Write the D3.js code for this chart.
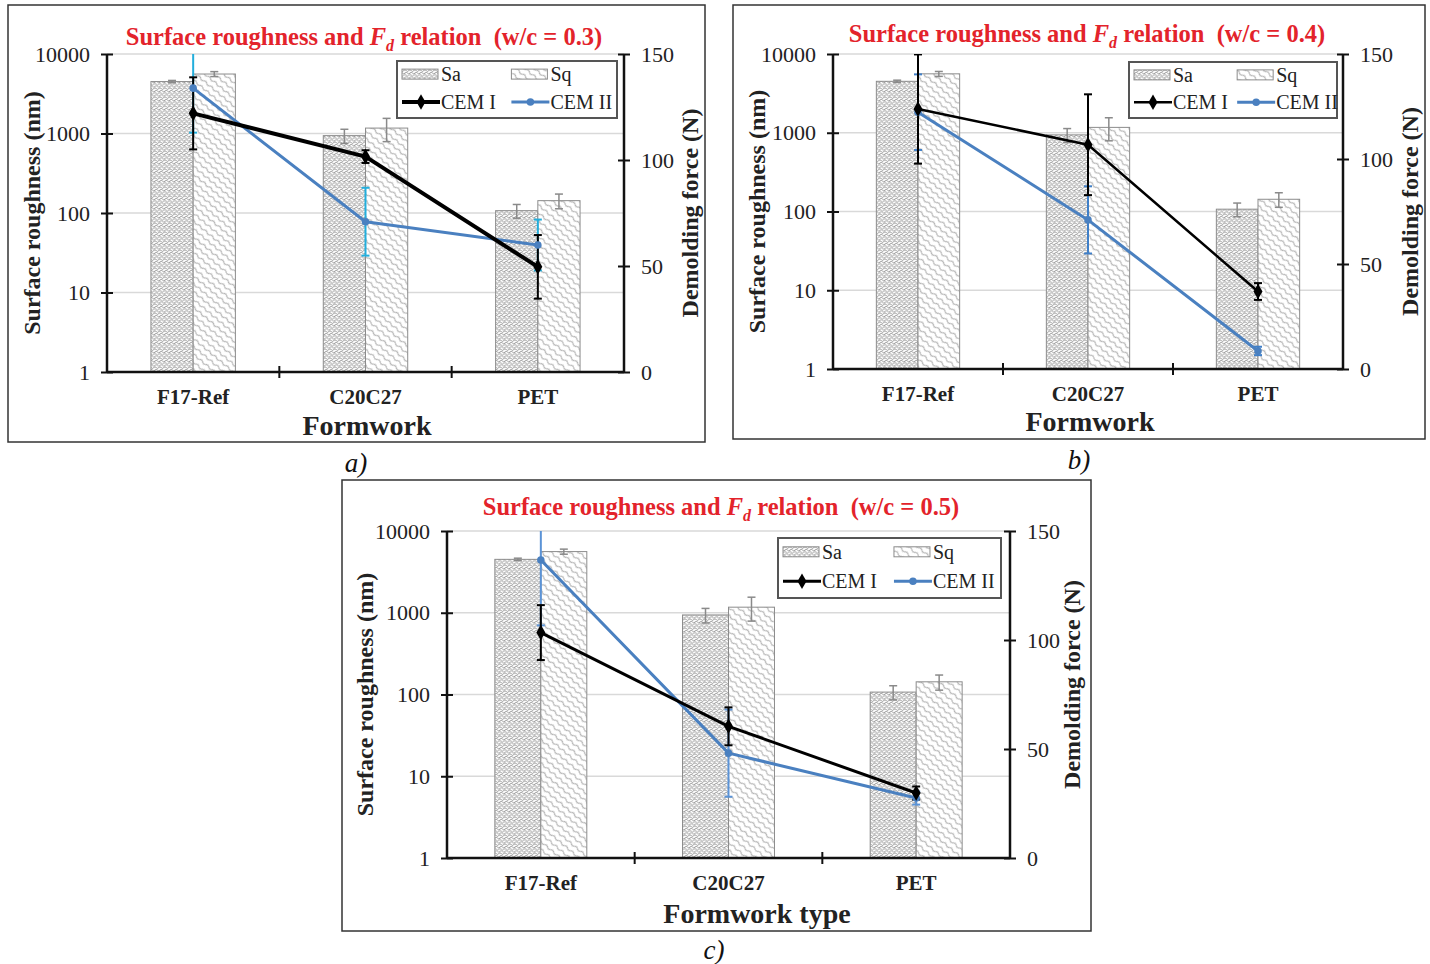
<!DOCTYPE html>
<html>
<head>
<meta charset="utf-8">
<script src="https://cdn.jsdelivr.net/npm/d3@7"></script>
<style>
  body { margin: 0; background: #fff; }
  svg { display: block; }
</style>
</head>
<body>
<svg id="fig" width="1430" height="964"></svg>
<script>
// ---- data ----
const formworks = ["F17-Ref", "C20C27", "PET"];
const roughnessTicks = [1, 10, 100, 1000, 10000];
const forceTicks = [0, 50, 100, 150];

// surface roughness (nm), same formwork surfaces in every panel
const saValues = [4500, 940, 107];
const saErr = [150, 190, 21];
const sqValues = [5600, 1170, 143];
const sqErr = [400, 380, 30];

// demolding force F_d (N) per w/c ratio
const wcRatios = ["0.3", "0.4", "0.5"];
const cem1Force03 = [122, 101.6, 49.6];
const cem1Err03 = [17, 3, 15];
const cem2Force03 = [133.9, 70.9, 59.9];
const cem2Err03 = [21, 16, 12];

const cem1Force04 = [123.8, 106.8, 36.9];
const cem1Err04 = [26, 24, 4];
const cem2Force04 = [122.3, 71, 8.6];
const cem2Err04 = [18, 16, 2];

const cem1Force05 = [103.4, 60.4, 29.8];
const cem1Err05 = [12.6, 8.7, 3];
const cem2Force05 = [136.7, 48.1, 27.5];
const cem2Err05 = [30, 20, 3];

const panelLetters = ["a)", "b)", "c)"];
const xTitles = ["Formwork", "Formwork", "Formwork type"];

// ---- layout ----
const SERIF = "'Liberation Serif', 'Times New Roman', serif";
const layouts = [
  { frame: [8, 5, 697, 437], plot: { l: 107, r: 624, t: 54, b: 372 }, title: [364, 36],
    legend: [397, 61, 220, 57], yTitleL: 32, yTitleR: 690, xTitle: [367, 425], letter: [356, 463],
    w1: 4, w2: 3, errColor: "#22aedc" },
  { frame: [733, 5, 692, 434], plot: { l: 833, r: 1343, t: 54, b: 369 }, title: [1087, 33],
    legend: [1129, 62, 208, 56], yTitleL: 757, yTitleR: 1410, xTitle: [1090, 421], letter: [1079, 460],
    w1: 2.5, w2: 3, errColor: "#3f7fc8" },
  { frame: [342, 480, 749, 451], plot: { l: 447, r: 1010, t: 531, b: 858 }, title: [721, 506],
    legend: [778, 538, 223, 60], yTitleL: 365, yTitleR: 1072, xTitle: [757, 913], letter: [714, 950],
    w1: 3, w2: 3, errColor: "#5b93d6" }
];

const forceSeries = [
  { c1: cem1Force03, e1: cem1Err03, c2: cem2Force03, e2: cem2Err03 },
  { c1: cem1Force04, e1: cem1Err04, c2: cem2Force04, e2: cem2Err04 },
  { c1: cem1Force05, e1: cem1Err05, c2: cem2Force05, e2: cem2Err05 }
];

const BLUE = "#4a80c0";
const svg = d3.select("#fig");
const defs = svg.append("defs");

// stipple texture for Sa
const pSa = defs.append("pattern").attr("id", "patSa").attr("patternUnits", "userSpaceOnUse")
  .attr("width", 5).attr("height", 4.5);
pSa.append("rect").attr("width", 5).attr("height", 4.5).attr("fill", "#fff");
pSa.append("path").attr("d", "M0,1 Q1.25,-0.4 2.5,1 T5,1 M-1.25,3.2 Q0,1.8 1.25,3.2 T3.75,3.2 T6.25,3.2")
  .attr("fill", "none").attr("stroke", "#7d7d7d").attr("stroke-width", 0.8);

// diagonal wave texture for Sq
const pSq = defs.append("pattern").attr("id", "patSq").attr("patternUnits", "userSpaceOnUse")
  .attr("width", 8).attr("height", 6).attr("patternTransform", "rotate(40)");
pSq.append("rect").attr("width", 8).attr("height", 6).attr("fill", "#fff");
pSq.append("path").attr("d", "M0,3 Q2,0.8 4,3 T8,3")
  .attr("fill", "none").attr("stroke", "#a0a0a0").attr("stroke-width", 1);

function drawPanel(i) {
  const L = layouts[i], P = L.plot, F = forceSeries[i];
  const g = svg.append("g");

  g.append("rect").attr("x", L.frame[0]).attr("y", L.frame[1])
    .attr("width", L.frame[2]).attr("height", L.frame[3])
    .attr("fill", "#fff").attr("stroke", "#333").attr("stroke-width", 1.5);

  const x = d3.scaleBand().domain(formworks).range([P.l, P.r]);
  const y = d3.scaleLog().domain([1, 10000]).range([P.b, P.t]);
  const yF = d3.scaleLinear().domain([0, 150]).range([P.b, P.t]);
  const cx = d => x(d) + x.bandwidth() / 2;

  const clipId = "clip" + i;
  defs.append("clipPath").attr("id", clipId).append("rect")
    .attr("x", P.l - 20).attr("y", P.t).attr("width", P.r - P.l + 40).attr("height", P.b - P.t);

  // horizontal gridlines
  g.append("g").selectAll("line").data(roughnessTicks.slice(1)).join("line")
    .attr("x1", P.l).attr("x2", P.r).attr("y1", d => y(d)).attr("y2", d => y(d))
    .attr("stroke", "#d9d9d9").attr("stroke-width", 1.5);

  // roughness bars
  const bw = x.bandwidth() * 0.245;
  const bars = [
    { vals: saValues, err: saErr, fill: "url(#patSa)", off: -bw },
    { vals: sqValues, err: sqErr, fill: "url(#patSq)", off: 0 }
  ];
  bars.forEach(s => {
    const rows = formworks.map((f, k) => ({ f, v: s.vals[k], e: s.err[k] }));
    g.append("g").selectAll("rect").data(rows).join("rect")
      .attr("x", d => cx(d.f) + s.off).attr("width", bw)
      .attr("y", d => y(d.v)).attr("height", d => P.b - y(d.v))
      .attr("fill", s.fill).attr("stroke", "#8c8c8c").attr("stroke-width", 1);
    const eg = g.append("g").attr("stroke", "#8a8a8a").attr("stroke-width", 1.5);
    rows.forEach(d => {
      const xm = cx(d.f) + s.off + bw / 2;
      eg.append("line").attr("x1", xm).attr("x2", xm).attr("y1", y(d.v - d.e)).attr("y2", y(d.v + d.e));
      [d.v - d.e, d.v + d.e].forEach(v => eg.append("line")
        .attr("x1", xm - 4).attr("x2", xm + 4).attr("y1", y(v)).attr("y2", y(v)));
    });
  });

  // axes
  const axL = d3.axisLeft(y).tickValues(roughnessTicks).tickFormat(d3.format("d")).tickSize(6).tickPadding(11);
  g.append("g").attr("transform", `translate(${P.l},0)`).call(axL)
    .attr("font-family", SERIF).attr("font-size", 22)
    .call(s => {
      s.select(".domain").remove();
      s.selectAll(".tick line").attr("x1", 6).attr("stroke", "#111").attr("stroke-width", 2);
      s.selectAll(".tick text").attr("fill", "#222");
    });
  const axR = d3.axisRight(yF).tickValues(forceTicks).tickSize(6).tickPadding(11);
  g.append("g").attr("transform", `translate(${P.r},0)`).call(axR)
    .attr("font-family", SERIF).attr("font-size", 22)
    .call(s => {
      s.select(".domain").remove();
      s.selectAll(".tick line").attr("x1", -6).attr("stroke", "#111").attr("stroke-width", 2);
      s.selectAll(".tick text").attr("fill", "#222");
    });
  const axB = d3.axisBottom(x).tickSize(0).tickPadding(17);
  g.append("g").attr("transform", `translate(0,${P.b})`).call(axB)
    .attr("font-family", SERIF).attr("font-size", 21).attr("font-weight", "bold")
    .call(s => { s.select(".domain").remove(); s.selectAll(".tick text").attr("fill", "#222"); });
  g.append("g").selectAll("line").data(formworks.slice(1)).join("line")
    .attr("x1", d => x(d)).attr("x2", d => x(d)).attr("y1", P.b - 6).attr("y2", P.b + 6)
    .attr("stroke", "#111").attr("stroke-width", 2);
  [[P.l, P.t, P.l, P.b], [P.r, P.t, P.r, P.b], [P.l, P.b, P.r, P.b]].forEach(c =>
    g.append("line").attr("x1", c[0]).attr("y1", c[1]).attr("x2", c[2]).attr("y2", c[3])
      .attr("stroke", "#111").attr("stroke-width", 2.5));

  // demolding force lines with error bars
  const lg = g.append("g").attr("clip-path", `url(#${clipId})`);
  const line = d3.line().x(d => cx(d.f)).y(d => yF(d.v));
  const cem = [
    { vals: F.c2, err: F.e2, color: BLUE, errColor: L.errColor, w: L.w2, marker: "circle" },
    { vals: F.c1, err: F.e1, color: "#000", errColor: "#000", w: L.w1, marker: "diamond" }
  ];
  cem.forEach(s => {
    const rows = formworks.map((f, k) => ({ f, v: s.vals[k], e: s.err[k] }));
    const eg = lg.append("g").attr("stroke", s.errColor).attr("stroke-width", 2);
    rows.forEach(d => {
      eg.append("line").attr("x1", cx(d.f)).attr("x2", cx(d.f)).attr("y1", yF(d.v - d.e)).attr("y2", yF(d.v + d.e));
      [d.v - d.e, d.v + d.e].forEach(v => eg.append("line")
        .attr("x1", cx(d.f) - 4).attr("x2", cx(d.f) + 4).attr("y1", yF(v)).attr("y2", yF(v)));
    });
  });
  cem.forEach(s => {
    const rows = formworks.map((f, k) => ({ f, v: s.vals[k] }));
    lg.append("path").datum(rows).attr("d", line).attr("fill", "none")
      .attr("stroke", s.color).attr("stroke-width", s.w).attr("stroke-linejoin", "round");
    const sym = d3.symbol().type(s.marker === "diamond" ? d3.symbolDiamond : d3.symbolCircle)
      .size(s.marker === "diamond" ? 70 : 45);
    lg.append("g").selectAll("path").data(rows).join("path")
      .attr("transform", d => `translate(${cx(d.f)},${yF(d.v)})`)
      .attr("d", sym).attr("fill", s.color);
  });

  // title
  const t = g.append("text").attr("x", L.title[0]).attr("y", L.title[1]).attr("dy", "0.35em")
    .attr("text-anchor", "middle").attr("font-family", SERIF).attr("font-size", 24.5)
    .attr("font-weight", "bold").attr("fill", "#e3232b").style("white-space", "pre");
  t.append("tspan").text("Surface roughness and ");
  t.append("tspan").attr("font-style", "italic").text("F");
  t.append("tspan").attr("font-style", "italic").attr("font-size", 16).attr("dy", 6).text("d");
  t.append("tspan").attr("dy", -6).text(` relation  (w/c = ${wcRatios[i]})`);

  // axis titles
  g.append("text").attr("transform", `translate(${L.yTitleL},${(P.t + P.b) / 2}) rotate(-90)`)
    .attr("dy", "0.35em").attr("text-anchor", "middle").attr("font-family", SERIF)
    .attr("font-size", 24).attr("font-weight", "bold").attr("fill", "#222").text("Surface roughness (nm)");
  g.append("text").attr("transform", `translate(${L.yTitleR},${(P.t + P.b) / 2 - (i === 2 ? 10 : 0)}) rotate(-90)`)
    .attr("dy", "0.35em").attr("text-anchor", "middle").attr("font-family", SERIF)
    .attr("font-size", 24).attr("font-weight", "bold").attr("fill", "#222").text("Demolding force (N)");
  g.append("text").attr("x", L.xTitle[0]).attr("y", L.xTitle[1]).attr("dy", "0.35em")
    .attr("text-anchor", "middle").attr("font-family", SERIF).attr("font-size", 28)
    .attr("font-weight", "bold").attr("fill", "#222").text(xTitles[i]);

  // legend
  const [lx, ly, lw, lh] = L.legend;
  const leg = g.append("g").attr("font-family", SERIF).attr("font-size", 20).attr("fill", "#222");
  leg.append("rect").attr("x", lx).attr("y", ly).attr("width", lw).attr("height", lh)
    .attr("fill", "#fff").attr("stroke", "#555").attr("stroke-width", 2);
  const r1 = ly + lh * 0.23, r2 = ly + lh * 0.72, col2 = lx + lw * 0.52;
  [[lx + 5, "url(#patSa)", "Sa"], [col2, "url(#patSq)", "Sq"]].forEach(([sx, fill, name]) => {
    leg.append("rect").attr("x", sx).attr("y", r1 - 5).attr("width", 36).attr("height", 10)
      .attr("fill", fill).attr("stroke", "#8c8c8c");
    leg.append("text").attr("x", sx + 39).attr("y", r1).attr("dy", "0.35em").text(name);
  });
  [[lx + 5, "#000", "diamond", L.w1, "CEM I"], [col2, BLUE, "circle", L.w2, "CEM II"]].forEach(([sx, col, mk, w, name]) => {
    leg.append("line").attr("x1", sx).attr("x2", sx + 38).attr("y1", r2).attr("y2", r2)
      .attr("stroke", col).attr("stroke-width", w);
    leg.append("path").attr("transform", `translate(${sx + 19},${r2})`)
      .attr("d", d3.symbol().type(mk === "diamond" ? d3.symbolDiamond : d3.symbolCircle).size(mk === "diamond" ? 70 : 45))
      .attr("fill", col);
    leg.append("text").attr("x", sx + 39).attr("y", r2).attr("dy", "0.35em").text(name);
  });

  // panel letter
  svg.append("text").attr("x", L.letter[0]).attr("y", L.letter[1]).attr("dy", "0.35em")
    .attr("text-anchor", "middle").attr("font-family", SERIF).attr("font-size", 27)
    .attr("font-style", "italic").attr("fill", "#111").text(panelLetters[i]);
}

[0, 1, 2].forEach(drawPanel);
</script>
</body>
</html>
